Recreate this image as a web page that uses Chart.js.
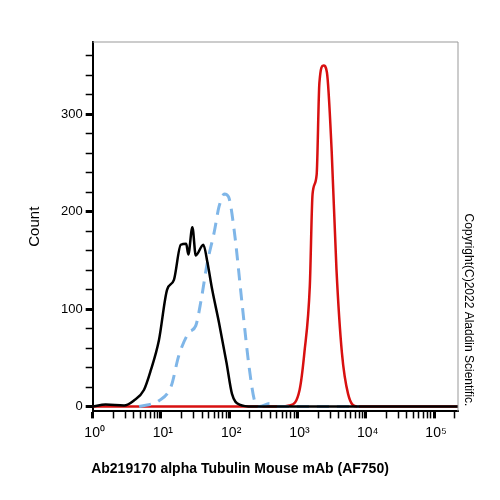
<!DOCTYPE html>
<html><head><meta charset="utf-8">
<script src="https://cdn.jsdelivr.net/npm/chart.js@4"></script>
<style>html,body{margin:0;padding:0;background:#fff}#w{width:500px;height:500px}</style>
</head><body><div id="w"><canvas id="c"></canvas></div>
<script>
// x values are log10 of fluorescence intensity
const blackX = [0,0.19,0.46,0.60,0.75,0.85,0.97,1.09,1.19,1.29,1.37,1.40,1.46,1.51,1.62,1.68,1.75,1.85,1.96,2.04,2.15,2.34,5.35];
const blackY = [0,2,1,6,17,37,68,120,130,166,167,156,184,155,166,148,120,86,45,13,2,0,0];
const blueX = [0.68,0.97,1.15,1.26,1.41,1.51,1.59,1.68,1.78,1.85,1.93,1.99,2.07,2.19,2.29,2.37,2.44,2.59,2.71,3.9];
const blueY = [0,6,21,52,76,83,110,148,179,205,218,215,182,104,41,6,0,3,0,0];
const redX = [0,2.74,2.88,3.03,3.10,3.18,3.22,3.28,3.32,3.38,3.43,3.50,3.57,3.65,3.74,3.87,5.35];
const redY = [0,0,1,17,55,124,218,238,332,350,343,262,141,55,13,0,0];
const xTickLabels = ['10⁰','10¹','10²','10³','10⁴','10⁵'];
const yMajor = [0,100,200,300];
const pts=(xs,ys)=>xs.map((x,i)=>({x,y:ys[i]}));
const minorX=[];for(let d=0;d<6;d++)for(let k=1;k<10;k++){const v=d+Math.log10(k);if(v<=5.35)minorX.push(v);}
const frame={id:'frame',afterDraw(ch){const {ctx,chartArea:a}=ch;ctx.save();ctx.strokeStyle='#999';ctx.lineWidth=1;ctx.beginPath();ctx.moveTo(a.left,a.top);ctx.lineTo(a.right,a.top);ctx.lineTo(a.right,a.bottom);ctx.stroke();
ctx.translate(468,310);ctx.rotate(Math.PI/2);ctx.fillStyle='#000';ctx.font='12px Arial, "Liberation Sans"';ctx.textAlign='center';ctx.textBaseline='middle';ctx.fillText('Copyright(C)2022 Aladdin Scientific.',0,0);ctx.restore();}};
new Chart(document.getElementById('c'),{type:'scatter',
data:{datasets:[
{data:pts(blackX,blackY),showLine:true,borderColor:'#000',borderWidth:2.5,pointRadius:0,cubicInterpolationMode:'monotone'},
{data:pts(blueX,blueY),showLine:true,borderColor:'#7fb6e8',borderWidth:3,borderDash:[12,8],pointRadius:0,cubicInterpolationMode:'monotone'},
{data:pts(redX,redY),showLine:true,borderColor:'#d81010',borderWidth:2.5,pointRadius:0,cubicInterpolationMode:'monotone'}]},
options:{responsive:true,maintainAspectRatio:false,animation:false,
layout:{padding:{left:22,right:42,top:42,bottom:18}},
plugins:{legend:{display:false},tooltip:{enabled:false},
title:{display:true,position:'bottom',text:'Ab219170 alpha Tubulin Mouse mAb (AF750)',font:{family:'Arial, "Liberation Sans"',size:14,weight:'bold'},color:'#000',padding:{top:14,bottom:4}}},
scales:{
x:{type:'linear',min:0,max:5.35,afterBuildTicks(s){s.ticks=minorX.map(v=>({value:v}));},
grid:{drawOnChartArea:false,color:'#000',tickLength:7,tickWidth:c=>Math.abs(c.tick.value-Math.round(c.tick.value))<1e-6?3:1.5},
border:{color:'#000',width:2},
ticks:{autoSkip:false,maxRotation:0,color:'#000',font:{family:'Arial, "Liberation Sans"',size:14},padding:6,
callback:(v)=>Math.abs(v-Math.round(v))<1e-6?' '+xTickLabels[Math.round(v)]:''}},
y:{min:-5,max:374,afterBuildTicks(s){const t=[];for(let v=0;v<=360;v+=20)t.push({value:v});s.ticks=t;},
grid:{drawOnChartArea:false,color:'#000',tickLength:7,tickWidth:c=>yMajor.includes(c.tick.value)?3:1.5},
border:{color:'#000',width:2},
title:{display:true,text:'Count',color:'#000',font:{family:'Arial, "Liberation Sans"',size:15},padding:{bottom:14}},
ticks:{autoSkip:false,color:'#000',font:{family:'Arial, "Liberation Sans"',size:13},
callback:v=>yMajor.includes(v)?String(v):''}}}},
plugins:[frame]});
</script></body></html>
